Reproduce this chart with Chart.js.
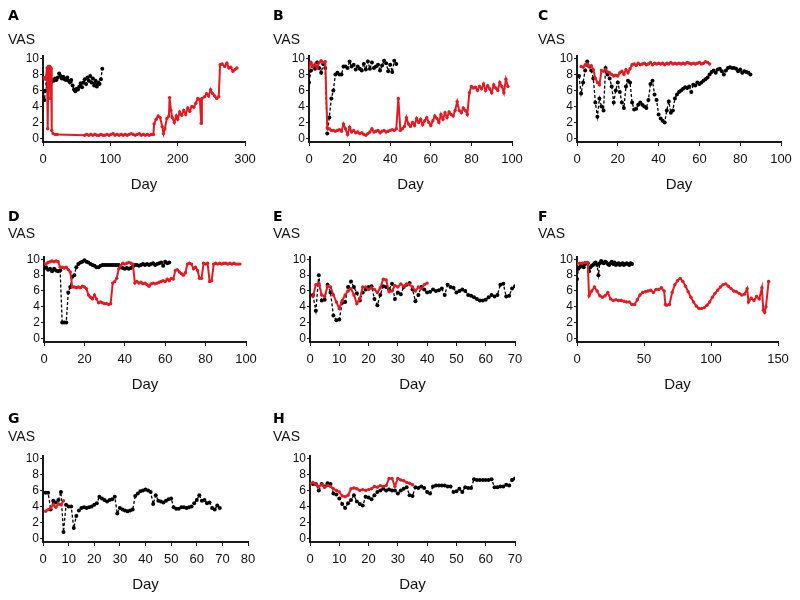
<!DOCTYPE html>
<html>
<head>
<meta charset="utf-8">
<script src="https://cdn.jsdelivr.net/npm/chart.js@4.4.1/dist/chart.umd.min.js"></script>
<style>
body { margin: 0; background: #fff; width: 800px; height: 600px; position: relative; overflow: hidden; }
canvas { position: absolute; }
</style>
</head>
<body>
<canvas id="cA" width="265" height="200" style="left:0;top:0"></canvas>
<canvas id="cB" width="265" height="200" style="left:265px;top:0"></canvas>
<canvas id="cC" width="270" height="200" style="left:530px;top:0"></canvas>
<canvas id="cD" width="265" height="200" style="left:0;top:200px"></canvas>
<canvas id="cE" width="265" height="200" style="left:265px;top:200px"></canvas>
<canvas id="cF" width="270" height="200" style="left:530px;top:200px"></canvas>
<canvas id="cG" width="265" height="200" style="left:0;top:400px"></canvas>
<canvas id="cH" width="265" height="200" style="left:265px;top:400px"></canvas>
<script>
// VAS scores per day; black = first series (dashed), red = second series
const yTicks = [0, 2, 4, 6, 8, 10];

// A
const aBlackVas = [5.8,4.8,6.0,6.8,7.0,7.2,7.0,7.3,7.2,7.5, 7.3,7.6,8.1,7.8,7.5,7.7,7.4,7.3,7.6,7.2,
  7.0,7.3,6.6,6.1,5.9,6.2,6.1,6.5,6.9,6.4, 7.0,7.4,6.8,7.6,7.2,7.8,7.0,7.5,6.6,7.2, 6.5,7.0,6.8,7.4,8.7];
const aRedDays = [0,2,4,6,7,8,10,11,12,13, 15,18,21,62,
  65,68,71,74,77,80,83,86,89,92, 95,98,101,104,107,110,113,116,119,122,
  125,128,131,134,137,140,143,146,149,152, 155,158,161,164,
  165,168,171,174,177,179,181,184,187,188, 190,192,195,198,200,203,206,209,212,215,
  218,221,224,227,230,233,235,236,240,243, 246,249,252,255,258,261,263,266,270,273,
  276,279,282,285,288];
const aRedVas = [7.5,7.6,7.4,8.8,1.2,9.0,9.0,5.0,8.8,1.0, 0.6,0.5,0.5,0.4,
  0.5,0.4,0.5,0.4,0.5,0.4,0.4,0.5,0.4,0.4, 0.5,0.4,0.5,0.6,0.4,0.5,0.4,0.5,0.4,0.5,
  0.4,0.5,0.6,0.5,0.4,0.5,0.6,0.4,0.5,0.4, 0.5,0.4,0.5,0.5,
  1.8,2.4,2.8,2.6,1.5,0.6,1.2,2.5,2.8,5.1, 3.5,2.6,2.0,2.8,2.4,3.3,2.9,3.5,3.0,3.8,
  3.4,4.0,3.9,4.4,5.0,4.8,1.9,5.0,5.2,5.6, 5.3,6.1,5.6,5.3,5.0,5.2,9.2,9.3,9.0,9.4,
  8.8,8.9,8.4,8.6,8.8];

// B
const bBlackVas = [7.0,8.5,9.0,8.7,9.5,8.8,8.2,9.3,8.8,0.6, 2.6,5.0,6.0,8.0,8.2,8.0,8.0,9.0,9.0,8.8,
  9.6,9.0,9.2,8.6,9.0,8.7,8.5,9.3,8.6,9.6, 8.7,9.5,8.8,9.0,9.2,8.5,9.1,9.7,9.4,8.4, 9.2,8.3,9.7,9.3];
const bRedVas = [8.8,9.5,9.0,9.3,8.8,9.5,9.7,9.5,9.6,1.3, 1.2,1.0,1.0,0.9,1.0,1.1,0.9,1.8,1.2,0.5,
  1.4,0.8,1.0,0.7,0.8,0.6,0.7,0.5,0.4,0.6, 0.8,1.2,0.8,0.9,1.0,0.7,0.9,1.0,0.8,0.9,
  1.0,1.1,1.0,1.2,5.0,1.0,1.2,1.5,2.6,1.8, 1.5,2.0,1.6,2.5,2.0,2.4,1.7,2.2,2.6,2.0,
  1.6,2.2,2.8,2.5,2.0,3.0,2.4,3.2,2.6,3.3, 3.0,2.8,3.5,4.6,3.5,3.2,3.8,3.5,3.0,5.7,
  6.5,6.3,6.4,6.0,6.5,6.2,6.8,6.0,6.6,6.2, 5.7,6.7,6.3,6.0,7.0,6.5,5.7,7.4,6.5];

// C
const cBlackVas = [7.8,5.6,7.0,8.5,9.6,9.0,8.5,7.5,4.5,2.7, 5.0,4.0,3.5,8.8,8.0,7.5,6.5,4.5,6.0,7.0,
  5.8,4.5,3.8,6.5,7.2,7.0,4.5,3.6,3.7,4.2, 4.5,4.2,4.0,3.8,4.8,6.8,7.2,5.5,4.8,3.0,
  2.5,2.2,2.0,3.5,4.6,3.2,3.5,5.0,5.5,5.8, 6.0,6.2,6.4,6.3,6.5,5.8,6.7,6.6,7.0,6.8,
  7.0,7.2,7.4,7.6,8.0,8.3,8.5,8.2,8.6,8.7, 8.4,8.0,8.5,8.8,8.9,8.8,8.8,8.7,8.4,8.6, 8.2,8.4,8.3,8.2,8.0];
const cRedVas = [9.0,8.9,9.2,9.3,9.0,9.1,8.6,7.5,7.0,6.7, 8.5,8.4,8.6,8.3,8.2,8.0,7.8,7.9,7.8,8.2,
  8.4,8.0,8.6,8.2,8.7,9.2,9.3,9.1,9.4,9.2, 9.3,9.4,9.2,9.3,9.5,9.2,9.4,9.3,9.4,9.3,
  9.4,9.2,9.4,9.3,9.5,9.3,9.4,9.3,9.4,9.3, 9.4,9.3,9.5,9.4,9.3,9.4,9.3,9.4,9.5,9.3, 9.4,9.6,9.5,9.3];

// D
const dBlackVas = [8.8,9.0,8.7,8.8,8.5,8.8,8.6,8.5,8.6,2.0, 2.0,2.0,5.8,6.5,7.8,8.0,9.0,9.4,9.6,9.7,
  9.9,9.7,9.6,9.4,9.3,9.2,9.0,9.0,9.2,9.3, 9.3,9.3,9.3,9.3,9.3,9.3,9.3,9.3,9.0,8.9,
  8.8,8.9,8.8,8.9,9.1,9.3,9.3,9.2,9.3,9.4, 9.3,9.4,9.3,9.4,9.5,9.3,9.4,9.5,9.6,9.2, 9.7,9.5,9.6];
const dRedVas = [9.5,9.4,9.6,9.7,9.8,9.7,9.8,9.7,9.0,9.0, 8.9,9.0,8.7,8.4,6.5,6.5,6.4,6.5,6.4,6.6,
  6.5,6.3,5.5,5.2,5.0,5.5,5.0,4.5,4.6,4.5, 4.4,4.4,4.3,4.4,7.0,7.2,7.6,8.8,9.2,9.5,
  9.4,9.5,9.6,9.5,9.4,7.0,7.2,7.0,7.1,6.9, 7.0,6.8,6.6,6.9,7.0,6.9,7.0,7.1,7.2,7.3,
  7.2,7.5,7.3,7.6,7.5,8.6,8.7,8.4,8.2,8.0, 8.3,9.4,9.5,9.4,8.8,9.0,8.6,7.6,7.6,9.5,
  9.4,9.5,7.2,7.3,9.4,9.5,9.4,9.5,9.4,9.5, 9.5,9.4,9.5,9.4,9.5,9.4,9.4,9.4];

// E
const eBlackVas = [5.5,3.5,8.0,4.8,4.9,6.8,5.8,2.9,2.3,2.4, 4.5,4.6,6.5,7.2,6.5,5.7,4.8,5.8,6.2,6.5,
  6.6,5.0,4.2,5.5,6.6,6.5,6.2,6.9,5.0,5.8, 5.6,6.5,6.8,7.0,6.2,4.7,5.5,6.5,6.2,5.8,
  5.9,6.2,6.0,6.1,6.3,5.5,6.8,6.5,6.4,5.8, 6.0,6.2,6.0,5.5,5.4,5.2,5.0,4.8,4.8,4.9,
  5.2,5.5,5.3,5.5,6.8,6.9,5.3,5.4,6.3,6.6];
const eRedVas = [5.3,6.8,7.0,5.5,5.3,6.6,6.5,5.5,4.6,3.8, 4.8,5.5,6.0,6.3,5.5,4.4,5.0,6.5,6.5,6.2,
  6.4,6.2,5.8,6.4,7.5,7.4,5.9,6.0,6.7,6.5, 6.9,6.6,6.9,6.8,6.5,6.0,6.5,6.3,6.8,7.0];

// F
const fBlackVas = [7.5,8.8,9.0,9.2,9.3,9.0,9.4,9.5,9.5,8.5, 9.0,9.2,9.3,9.5,9.6,9.3,8.0,9.5,9.8,9.6,
  9.5,9.7,9.6,9.4,9.3,9.5,9.7,9.4,9.6,9.3, 9.4,9.5,9.3,9.4,9.5,9.3,9.4,9.5,9.4,9.3, 9.5,9.4];
const fRedDays = [0,2,4,6,8,9,11,13,15,17, 19,21,23,25,27,29,31,33,35,37,
  39,41,43,45,47,49,51,53,55,57, 59,61,63,65,66,67,69,71,73,75,
  77,79,81,83,85,87,89,91,93,95, 97,99,101,103,105,107,109,111,113,115,
  117,119,121,123,125,127,128,130,132,134, 136,138,139,140,141,143];
const fRedVas = [9.5,9.5,9.5,9.6,9.6,5.4,6.0,6.5,6.0,5.4, 5.2,5.4,5.8,5.0,4.8,4.9,4.8,4.8,4.7,4.6,
  4.6,4.3,4.3,4.9,5.5,5.8,5.9,6.0,6.1,5.8, 6.2,6.2,6.4,6.0,4.3,4.2,4.3,5.8,6.8,7.3,
  7.6,7.2,6.6,5.9,5.2,4.6,4.1,3.8,3.8,3.9, 4.2,4.6,5.2,5.7,6.1,6.5,6.8,6.9,6.6,6.3,
  6.0,5.9,5.7,5.5,5.6,6.3,4.6,5.1,4.8,5.3, 5.0,6.4,3.6,3.3,4.0,7.2];

// G
const gBlackVas = [5.7,5.7,3.6,4.7,4.5,4.8,5.8,0.8,4.2,4.0, 4.0,1.3,2.8,3.5,3.8,3.9,3.8,3.9,4.0,4.2,
  4.4,5.2,5.0,4.8,4.6,4.8,4.9,5.2,3.1,3.8, 3.6,3.5,3.4,3.5,3.6,5.3,5.6,5.9,6.0,6.1,
  6.0,5.8,4.3,5.4,4.7,4.6,4.5,4.7,4.9,5.0, 3.9,3.7,3.7,3.9,3.9,3.8,3.9,4.0,4.4,4.8,
  5.4,4.7,4.8,4.4,4.5,3.8,3.6,4.1,3.8];
const gRedVas = [3.4,3.6,3.8,4.2,3.9,4.3,4.2,4.7];

// H
const hBlackVas = [6.8,6.8,6.0,6.8,6.5,6.9,6.8,5.6,5.5,5.0, 4.3,3.8,4.4,4.8,5.4,4.6,4.3,4.1,5.2,5.1,
  4.9,5.4,5.8,6.0,6.2,6.0,6.1,6.0,6.0,5.6, 6.0,6.2,6.4,5.4,5.3,6.4,6.3,6.5,6.3,5.8,
  5.6,6.5,6.6,6.6,6.6,6.6,6.5,6.5,5.8,5.9, 6.2,5.8,6.4,6.3,6.3,7.4,7.3,7.3,7.3,7.3,
  7.3,7.4,6.4,6.4,6.5,6.5,6.7,6.6,7.3,7.5];
const hRedVas = [6.8,7.0,6.8,6.5,6.7,6.4,6.6,6.5,6.2,6.0, 5.8,5.3,5.2,5.4,6.2,6.3,6.2,6.0,6.1,6.0,
  6.1,6.2,6.5,6.4,6.6,6.5,6.6,7.5,7.5,6.5, 7.5,7.3,7.2,7.0,6.9,6.7];

function pts(days, vas) { return vas.map((v, i) => ({ x: days[i], y: v })); }
function run(first, vas, step) { step = step || 1; return vas.map((v, i) => ({ x: first + i * step, y: v })); }

const FONT = 'Liberation Sans, Arial, sans-serif';
const RED = '#e41a22';
const AXIS = '#1a1a1a';

// per row: space above the letter, gap letter -> VAS, gap VAS -> plot
const rows = [
  { padTop: 9, titleGap: 9, subGap: 9 },
  { padTop: 10, titleGap: 2, subGap: 16 },
  { padTop: 12, titleGap: 3, subGap: 12 }
];

const panels = [
  { id: 'A', row: 0, left: 43, right: 245, w: 265, xMax: 300, step: 100, black: run(0, aBlackVas, 2), red: pts(aRedDays, aRedVas) },
  { id: 'B', row: 0, left: 44, right: 247, w: 265, xMax: 100, step: 20, black: run(0, bBlackVas), red: run(0, bRedVas) },
  { id: 'C', row: 0, left: 47, right: 251, w: 270, xMax: 100, step: 20, black: run(1, cBlackVas), red: run(2, cRedVas) },
  { id: 'D', row: 1, left: 44, right: 246, w: 265, xMax: 100, step: 20, black: run(0, dBlackVas), red: run(0, dRedVas) },
  { id: 'E', row: 1, left: 45, right: 250, w: 265, xMax: 70, step: 10, black: run(1, eBlackVas), red: run(1, eRedVas) },
  { id: 'F', row: 1, left: 47, right: 248, w: 270, xMax: 150, step: 50, black: run(0, fBlackVas), red: pts(fRedDays, fRedVas) },
  { id: 'G', row: 2, left: 43, right: 248, w: 265, xMax: 80, step: 10, black: run(1, gBlackVas), red: run(1, gRedVas) },
  { id: 'H', row: 2, left: 45, right: 250, w: 265, xMax: 70, step: 10, black: run(1, hBlackVas), red: run(0, hRedVas) }
];

panels.forEach(p => {
  const r = rows[p.row];
  new Chart(document.getElementById('c' + p.id), {
    type: 'line',
    data: {
      datasets: [
        { data: p.red, borderColor: RED, backgroundColor: RED, borderWidth: 2,
          pointRadius: 1.7, pointBorderWidth: 0, pointBackgroundColor: RED, tension: 0 },
        { data: p.black, borderColor: '#000', backgroundColor: '#000', borderWidth: 1.3, borderDash: [3, 2],
          pointRadius: 2, pointBorderWidth: 0, pointBackgroundColor: '#000', tension: 0 }
      ]
    },
    options: {
      responsive: false,
      animation: false,
      layout: { padding: { left: 8, right: p.w - p.right, top: r.padTop, bottom: 0 } },
      plugins: {
        legend: { display: false },
        tooltip: { enabled: false },
        title: { display: true, text: p.id, align: 'start', color: '#000',
          font: { family: 'DejaVu Sans, Arial, sans-serif', size: 14, weight: 'bold', lineHeight: 1.07 },
          padding: { top: 0, bottom: r.titleGap } },
        subtitle: { display: true, text: 'VAS', align: 'start', color: '#111',
          font: { family: FONT, size: 14, lineHeight: 1 }, padding: { top: 0, bottom: r.subGap } }
      },
      scales: {
        x: {
          type: 'linear', min: 0, max: p.xMax,
          afterFit: s => { s.height = 58; },
          ticks: { stepSize: p.step, autoSkip: false, maxRotation: 0, color: '#111', padding: 6,
            font: { family: FONT, size: 13 } },
          grid: { drawOnChartArea: false, drawTicks: true, tickLength: 4, color: AXIS },
          border: { color: AXIS, width: 2 },
          title: { display: true, text: 'Day', color: '#111', font: { family: FONT, size: 15, lineHeight: 1 },
            padding: { top: 0, bottom: 7.5 } }
        },
        y: {
          min: -0.45, max: 10.3,
          afterBuildTicks: s => { s.ticks = yTicks.map(v => ({ value: v })); },
          afterFit: s => { s.width = p.left - 8; },
          ticks: { autoSkip: false, color: '#111', padding: 1, font: { family: FONT, size: 12 } },
          grid: { drawOnChartArea: false, drawTicks: true, tickLength: 3, color: AXIS },
          border: { color: AXIS, width: 2 }
        }
      }
    }
  });
});
</script>
</body>
</html>
